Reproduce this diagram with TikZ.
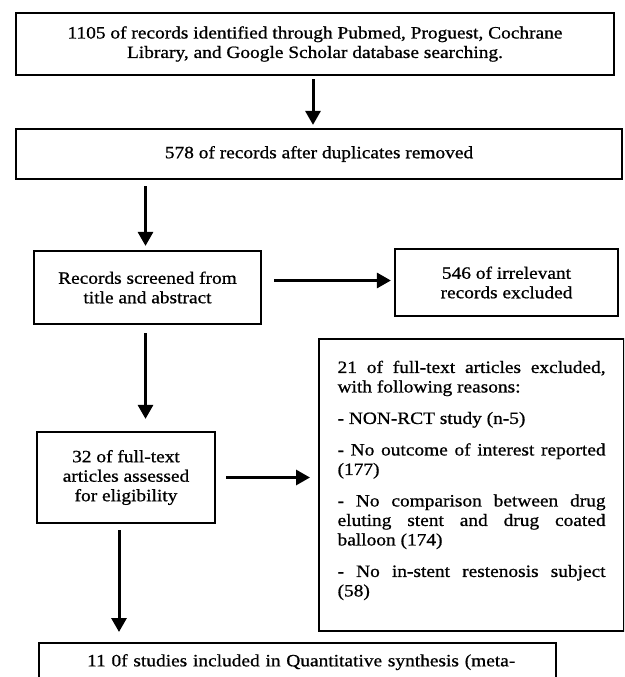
\documentclass[tikz,border=0pt]{standalone}
\usepackage{fontspec}
\setmainfont{Liberation Serif}[FakeStretch=1.12,FakeBold=0.8]
\usetikzlibrary{arrows.meta,calc}
\newcommand\fsz{\fontsize{17.3}{19.5}\selectfont}
\begin{document}
\begin{tikzpicture}[x=1pt,y=-1pt,
  box/.style={draw=black, line width=2.2pt, inner sep=0pt, align=center, font=\fsz},
  arr/.style={line width=3pt, -{Triangle[length=14pt,width=15pt]}}]
\useasboundingbox (0,0) rectangle (624,677);
\fill[white] (0,0) rectangle (624,677);
\clip (0,0) rectangle (624,677);

\node[box, minimum width=598, minimum height=62] (b1) at (315,44)
  {1105 of records identified through Pubmed, Proguest, Cochrane\\Library, and Google Scholar database searching.};
\node[box, minimum width=606, minimum height=50] (b2) at (319,154)
  {578 of records after duplicates removed};
\node[box, minimum width=227, minimum height=73] (b3) at (147.5,287.5)
  {Records screened from\\title and abstract};
\node[box, minimum width=223, minimum height=67] (b4) at (506.5,282.5)
  {546 of irrelevant\\records excluded};
\node[box, minimum width=178, minimum height=91] (b5) at (126,477.5)
  {32 of full-text\\articles assessed\\for eligibility};
\node[box, anchor=north west, minimum width=305, minimum height=292,
  text width=268, align=justify, inner xsep=18.5] (b6) at (318,338)
  {\hyphenpenalty=10000\setlength{\parskip}{12pt}\setlength{\parindent}{0pt}%
   21 of full-text articles excluded,\linebreak with following reasons:\par
   - NON-RCT study (n-5)\par
   - No outcome of interest reported\linebreak (177)\par
   - No comparison between drug\linebreak eluting stent and drug coated\linebreak balloon (174)\par
   - No in-stent restenosis subject\linebreak (58)\rule[-13pt]{0pt}{0pt}};
\node[box, anchor=north west, minimum width=517, minimum height=38,
  text width=517, align=left] (b7) at (38,642)
  {\hspace*{48pt}11 0f studies included in Quantitative synthesis (meta-};

\draw[arr] ($(b1.south)+(-2,3)$) -- ($(b1.south |- b2.north)+(-2,-3)$);
\draw[arr] ($(b3.north |- b2.south)+(-2,6)$) -- ($(b3.north)+(-2,-4)$);
\draw[arr] ($(b3.east |- b4.west)+(12,-2)$) -- ($(b4.west)+(-3,-2)$);
\draw[arr] ($(b3.south)+(-2,8)$) -- ($(b3.south |- b5.north)+(-2,-12)$);
\draw[arr] ($(b5.east)+(10,0)$) -- ($(b5.east -| b6.west)+(-8,0)$);
\draw[arr] ($(b5.south)+(-7,6)$) -- ($(b5.south |- b7.north)+(-7,-10)$);
\end{tikzpicture}
\end{document}
